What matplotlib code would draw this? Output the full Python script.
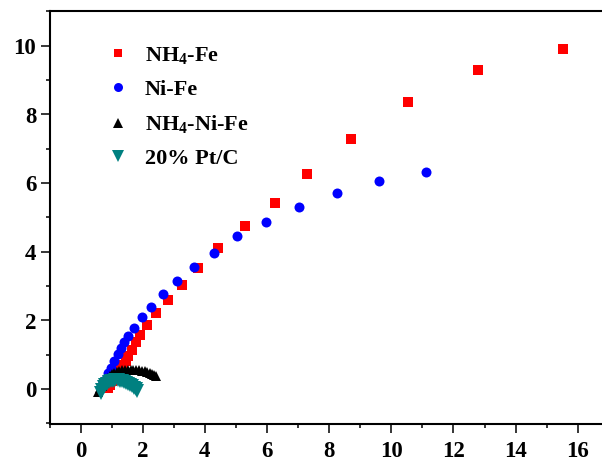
import matplotlib
matplotlib.use("Agg")
import matplotlib.pyplot as plt
from matplotlib.ticker import MultipleLocator

# ---- data ----
nh4fe_x = [15.51, 12.78, 10.54, 8.70, 7.28, 6.27, 5.28, 4.41, 3.77, 3.25, 2.80, 2.42,
           2.13, 1.91, 1.78, 1.65, 1.54, 1.46, 1.36, 1.27, 1.18, 1.10, 1.02, 0.95, 0.88]
nh4fe_y = [9.90, 9.31, 8.35, 7.29, 6.27, 5.43, 4.76, 4.12, 3.54, 3.04, 2.61, 2.23,
           1.88, 1.59, 1.37, 1.15, 0.98, 0.81, 0.69, 0.57, 0.45, 0.34, 0.23, 0.13, 0.04]

nife_x = [11.13, 9.60, 8.24, 7.04, 5.97, 5.04, 4.28, 3.64, 3.09, 2.64, 2.26, 1.97,
          1.71, 1.52, 1.40, 1.30, 1.19, 1.07, 0.98, 0.88, 0.79, 0.69]
nife_y = [6.32, 6.07, 5.70, 5.30, 4.88, 4.47, 3.97, 3.57, 3.16, 2.78, 2.40, 2.09,
          1.79, 1.56, 1.37, 1.20, 1.01, 0.81, 0.63, 0.46, 0.28, 0.11]

nh4nife_x = [0.55, 0.62, 0.68, 0.74, 0.80, 0.87, 0.94, 1.01, 1.09, 1.17, 1.25, 1.34,
             1.43, 1.52, 1.61, 1.70, 1.79, 1.88, 1.97, 2.06, 2.14, 2.22, 2.30, 2.37, 2.43]
nh4nife_y = [-0.08, 0.02, 0.10, 0.18, 0.25, 0.32, 0.38, 0.43, 0.47, 0.51, 0.53, 0.55,
             0.56, 0.57, 0.57, 0.57, 0.56, 0.55, 0.54, 0.52, 0.50, 0.47, 0.44, 0.41, 0.37]

ptc_x = [0.66, 0.70, 0.75, 0.80, 0.86, 0.92, 0.98, 1.05, 1.12, 1.19, 1.26, 1.33,
         1.40, 1.47, 1.54, 1.60, 1.66, 1.72, 1.77, 1.82]
ptc_y = [-0.10, -0.02, 0.05, 0.11, 0.16, 0.20, 0.23, 0.25, 0.26, 0.26, 0.25, 0.24,
         0.22, 0.19, 0.16, 0.12, 0.08, 0.04, 0.00, -0.04]

labels = [r'NH$_4$-Fe', 'Ni-Fe', r'NH$_4$-Ni-Fe', '20% Pt/C']
x_ticks = [0, 2, 4, 6, 8, 10, 12, 14, 16]
y_ticks = [0, 2, 4, 6, 8, 10]

# ---- style ----
plt.rcParams['font.family'] = ['Liberation Serif', 'DejaVu Serif']
plt.rcParams['font.weight'] = 'bold'
plt.rcParams['mathtext.fontset'] = 'custom'
plt.rcParams['mathtext.rm'] = 'Liberation Serif:bold'
plt.rcParams['mathtext.it'] = 'Liberation Serif:bold'
plt.rcParams['mathtext.bf'] = 'Liberation Serif:bold'
plt.rcParams['mathtext.default'] = 'rm'

fig = plt.figure(figsize=(6.02, 4.61), dpi=100)
ax = fig.add_axes([49.5 / 602, 1 - 423.5 / 461, 1 - 49.5 / 602, (423.5 - 11.5) / 461])

ax.plot(nh4fe_x, nh4fe_y, 's', color='#FF0000', ms=6.5, mew=0, label=labels[0])
ax.plot(nife_x, nife_y, 'o', color='#0000FF', ms=7.2, mew=0, label=labels[1])
ax.plot(nh4nife_x, nh4nife_y, '^', color='black', ms=7.5, mew=0, label=labels[2])
ax.plot(ptc_x, ptc_y, 'v', color='#008080', ms=9.5, mew=0, label=labels[3])

ax.set_xlim(-1, 16.78)
ax.set_ylim(-1, 11)
ax.set_xticks(x_ticks)
ax.set_yticks(y_ticks)
ax.xaxis.set_minor_locator(MultipleLocator(1))
ax.yaxis.set_minor_locator(MultipleLocator(1))
ax.tick_params(which='major', direction='out', length=6.5, width=1.1, labelsize=16.5)
ax.tick_params(which='minor', direction='out', length=3, width=1.1)
ax.tick_params(axis='x', pad=6)
ax.tick_params(axis='y', pad=3)
ax.tick_params(top=False, right=False, which='both')
for lab in ax.get_xticklabels() + ax.get_yticklabels():
    lab.set_fontweight('bold')

for s in ['left', 'bottom', 'top']:
    ax.spines[s].set_linewidth(1.5)
ax.spines['right'].set_visible(False)

leg = ax.legend(loc='upper left', bbox_to_anchor=(0.088, 0.94), frameon=False,
                fontsize=16, markerscale=0.9, handlelength=1.0, handletextpad=0.7,
                labelspacing=0.6, borderaxespad=0)
for t in leg.get_texts():
    t.set_fontweight('bold')

fig.savefig('out.png', dpi=100)
